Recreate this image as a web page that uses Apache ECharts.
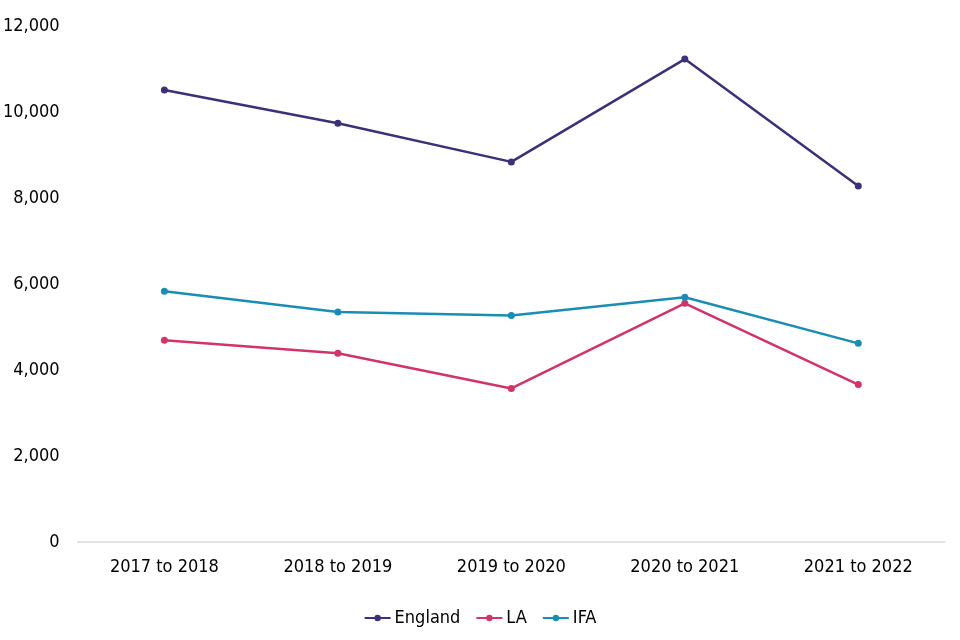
<!DOCTYPE html>
<html><head><meta charset="utf-8">
<script src="https://cdn.jsdelivr.net/npm/echarts@6/dist/echarts.min.js"></script>
<style>html,body{margin:0;padding:0;background:#fff}#c{width:960px;height:640px}</style>
</head><body><div id="c"></div>
<script>
const categories = ['2017 to 2018','2018 to 2019','2019 to 2020','2020 to 2021','2021 to 2022'];
const england = [10510, 9740, 8840, 11230, 8280];
const la = [4690, 4390, 3570, 5550, 3660];
const ifa = [5830, 5350, 5270, 5690, 4620];
const font = '"DejaVu Sans Condensed", "DejaVu Sans", sans-serif';
const chart = echarts.init(document.getElementById('c'));
function mk(name, data, color){
  return {name, type:'line', data, symbol:'circle', symbolSize:7,
    lineStyle:{color, width:2.5}, itemStyle:{color}};
}
chart.setOption({
  animation:false,
  textStyle:{fontFamily:font},
  grid:{left:76, right:15, top:26, bottom:98},
  legend:{bottom:8, left:'center', itemWidth:26, itemHeight:8, itemGap:15,
    textStyle:{fontFamily:font, fontSize:18, color:'#000', padding:[0,0,0,-1]},
    data:['England','LA','IFA']},
  xAxis:{type:'category', data:categories, boundaryGap:true,
    axisLine:{lineStyle:{color:'#d9d9d9', width:1.5}}, axisTick:{show:false},
    axisLabel:{fontFamily:font, fontSize:18, color:'#000', margin:16}},
  yAxis:{type:'value', min:0, max:12000, interval:2000,
    axisLine:{show:false}, axisTick:{show:false}, splitLine:{show:false},
    axisLabel:{fontFamily:font, fontSize:18, color:'#000', margin:18,
      formatter:v=>v.toLocaleString('en-GB')}},
  series:[mk('England', england, '#3d2f78'), mk('LA', la, '#d2336a'), mk('IFA', ifa, '#1a8db5')]
});
</script></body></html>
